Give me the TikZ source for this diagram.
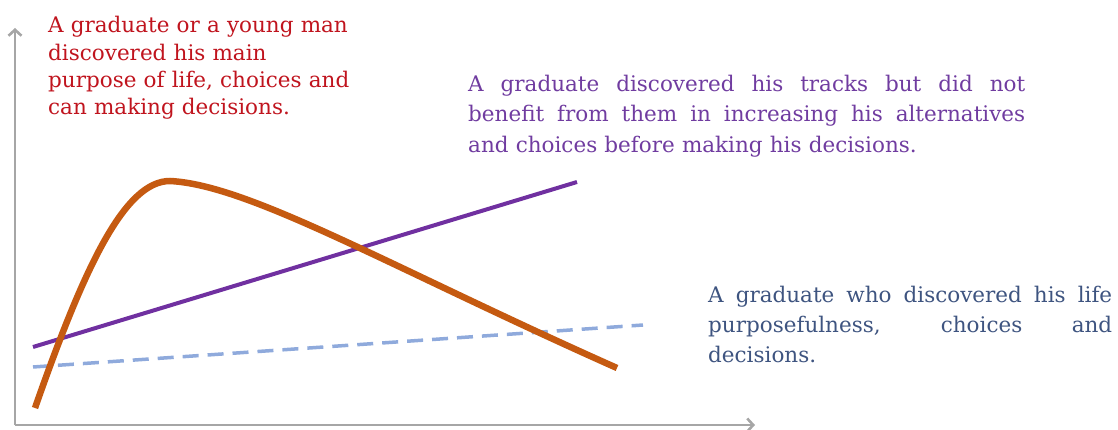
\documentclass[tikz,border=0pt]{standalone}
\usepackage{fontspec}
\setmainfont{DejaVu Serif}
\usetikzlibrary{arrows.meta}
\definecolor{axisgray}{RGB}{166,166,166}
\definecolor{curveorange}{RGB}{197,90,17}
\definecolor{linepurple}{RGB}{112,48,160}
\definecolor{dashblue}{RGB}{143,170,220}
\definecolor{textred}{RGB}{192,20,30}
\definecolor{textpurple}{RGB}{112,60,160}
\definecolor{textblue}{RGB}{62,84,128}
\newcommand\spreadline[2]{\makebox[#1][s]{\spaceskip=0.32em plus 1fil\relax #2}}
\begin{document}
\begin{tikzpicture}[x=1pt,y=-1pt,
    axis/.style={line width=2.6pt,draw=axisgray,-{Straight Barb[length=6pt,width=13pt]}},
    label/.style={inner sep=0pt,anchor=base west,align=left}]
                \useasboundingbox
                    (0,0) rectangle (1118,430);
                \coordinate (origin) at (15,425);
                \coordinate (ytop) at (15,28);
                \coordinate (xend) at (755,425);
                \draw[axis]
                    (origin) -- (ytop);
                \draw[axis]
                    (origin) -- (xend);
                \draw[line width=3.5pt,draw=dashblue,dash pattern=on 16pt off 9pt]
                    (33,367) -- (643,325);
                \draw[line width=4pt,draw=linepurple]
                    (33,347) -- (577,182);
                \draw[line width=6.5pt,draw=curveorange]
                    (35,408) .. controls (85,265) and (125,181) .. (170,181)
                    .. controls (250,185) and (390,267) .. (617,368);
                \node[label,text width=340pt,text=textred,
                      font=\fontsize{21.5}{27.3}\selectfont] (young) at (48,33)
                    {A graduate or a young man\\ discovered his main\\
                     purpose of life, choices and\\ can making decisions.};
                \node[label,text width=557pt,text=textpurple,
                      font=\fontsize{21.5}{30.3}\selectfont] (tracks) at (468,91.5)
                    {\spreadline{557pt}{A graduate discovered his tracks but did not}\\
                     \spreadline{557pt}{benefit from them in increasing his alternatives}\\
                     and choices before making his decisions.};
                \node[label,text width=404pt,text=textblue,
                      font=\fontsize{21.5}{30}\selectfont] (purpose) at (708,302)
                    {\spreadline{404pt}{A graduate who discovered his life}\\
                     \spreadline{404pt}{purposefulness, choices and}\\
                     decisions.};
            \end{tikzpicture}
\end{document}
